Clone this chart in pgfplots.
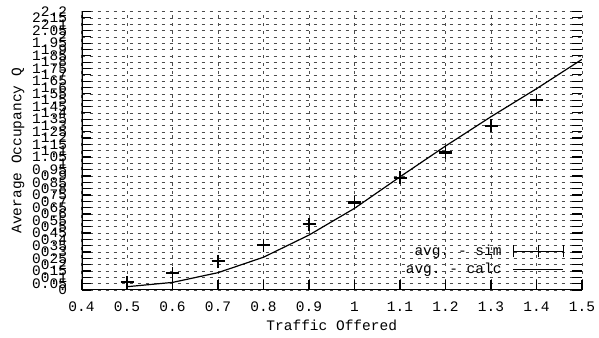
\documentclass[border=0pt]{standalone}
\usepackage{fontspec}
\setmainfont{Liberation Mono}
\usepackage{pgfplots}
\pgfplotsset{compat=1.18}
\frenchspacing

\begin{document}
\begin{tikzpicture}[x=1pt,y=1pt]
\useasboundingbox (0,0) rectangle (599,337);
\begin{axis}[
  at={(81.5pt,47pt)}, anchor=south west,
  scale only axis,
  width=500.5pt, height=278.5pt,
  xmin=0.4, xmax=1.5, ymin=0, ymax=2.2,
  xtick={0.4,0.5,...,1.5},
  ytick={0,0.05,...,2.2},
  xticklabels={0.4,0.5,0.6,0.7,0.8,0.9,1,1.1,1.2,1.3,1.4,1.5},
  /pgf/number format/assume math mode=true,
  yticklabel={\pgfmathprintnumber[fixed,precision=2]{\tick}},
  font=\fontsize{14.5}{16}\selectfont,
  tick label style={font=\fontsize{14.5}{16}\selectfont},
  yticklabel style={xshift=-11pt},
  xticklabel style={yshift=-8pt},
  xtick pos=bottom, ytick pos=both,
  tick align=inside,
  major tick length=10pt,
  tick style={black, line width=1.2pt},
  axis line style={draw=none},
  grid=major,
  grid style={gray!60!black, line width=0.5pt, dash pattern=on 3pt off 5pt},
  xlabel={Traffic Offered},
  ylabel={Average Occupancy Q},
  xlabel style={yshift=-2pt},
  ylabel style={yshift=1pt},
  legend plot pos=right,
  legend cell align=right,
  legend style={draw=none, fill=none, inner sep=0pt, row sep=2pt,
    at={(rel axis cs:0.964,0.045)}, anchor=south east,
    font=\fontsize{14.5}{16}\selectfont},
]
% axis spines: left and bottom only
\draw[black, line width=2.5pt] (rel axis cs:0,1) -- (rel axis cs:0,0) -- (rel axis cs:1,0);

% simulated averages with error bars
\addplot[black, line width=1.3pt, only marks, mark=+, mark size=6.5pt,
  legend image code/.code={
    \path (0pt,0pt);
    \draw[black, line width=1.2pt] (9pt,-6pt)--(9pt,6pt) (9pt,0pt)--(59pt,0pt)
      (59pt,-6pt)--(59pt,6pt) (34pt,-6pt)--(34pt,6pt);},
  error bars/.cd, y dir=both, y explicit,
  error mark=-, error mark options={black, line width=1.3pt, mark size=6.5pt, rotate=90},
  error bar style={line width=1.3pt}]
  table[x=x, y=y, y error=e] {
x    y      e
0.5  0.061  0.004
0.6  0.132  0.004
0.7  0.229  0.004
0.8  0.355  0.004
0.9  0.519  0.004
1.0  0.693  0.008
1.1  0.887  0.004
1.2  1.088  0.008
1.3  1.298  0.004
1.4  1.500  0.004
};
\addlegendentry{avg. - sim}

% calculated averages
\addplot[black, line width=1.2pt, mark=none,
  legend image code/.code={\path (0pt,0pt);
    \draw[black, line width=1.2pt] (9pt,0pt)--(59pt,0pt);}]
  coordinates {
(0.5,0.026) (0.6,0.060) (0.7,0.137) (0.8,0.259) (0.9,0.434)
(1.0,0.645) (1.1,0.894) (1.2,1.137) (1.3,1.369) (1.4,1.590) (1.5,1.822)
};
\addlegendentry{avg. - calc}
\end{axis}
\end{tikzpicture}
\end{document}
